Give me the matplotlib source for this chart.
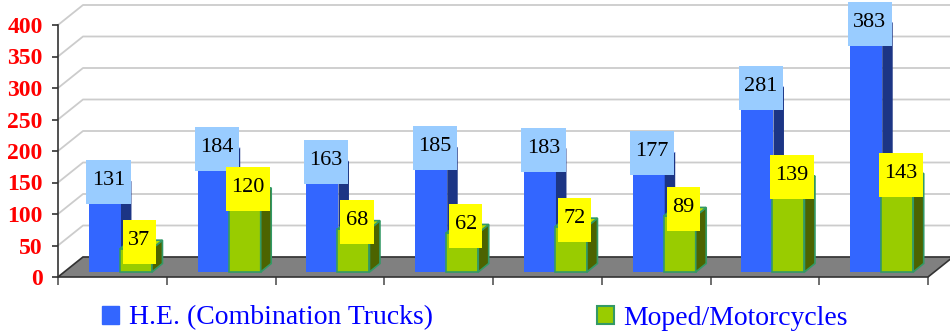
import matplotlib as mpl
import matplotlib.pyplot as plt
from matplotlib.patches import Polygon, Rectangle, Patch


years = ["1997", "1998", "1999", "2000", "2001", "2002", "2003", "2004"]
trucks = [131, 184, 163, 185, 183, 177, 281, 383]
mopeds = [37, 120, 68, 62, 72, 89, 139, 143]

SERIF = ["Liberation Serif", "DejaVu Serif"]
mpl.rcParams["font.family"] = SERIF

# pixel scale of the front plane (108.75 px per category, 0.63 px per unit)
PX_X = 108.75
PX_Y = 0.63

# depth of the floor / walls, and of each bar, in data units
WALL_DX, WALL_DY = 25 / PX_X, 20 / PX_Y
BAR_DX, BAR_DY = 10.5 / PX_X, 8.5 / PX_Y
BAR_BASE = 5 / PX_Y
BAR_W = 0.294

SERIES = [
    # (values, x offset in category, front, side, top, edge, label box)
    (trucks, 0.285, "#3366FF", "#1C3585", "#5F88FF", "none", "#99CCFF"),
    (mopeds, 0.570, "#99CC00", "#4C6300", "#B8E000", "#339966", "#FFFF00"),
]


def bar3d(ax, x0, v, front, side, top, edge):
    y0, y1 = BAR_BASE, BAR_BASE + v
    x1 = x0 + BAR_W
    kw = dict(edgecolor=edge, linewidth=1.2, clip_on=False, zorder=3)
    ax.add_patch(Polygon([(x0, y0), (x1, y0), (x1, y1), (x0, y1)],
                         facecolor=front, **kw))
    ax.add_patch(Polygon([(x1, y0), (x1 + BAR_DX, y0 + BAR_DY),
                          (x1 + BAR_DX, y1 + BAR_DY), (x1, y1)],
                         facecolor=side, **kw))
    ax.add_patch(Polygon([(x0, y1), (x1, y1), (x1 + BAR_DX, y1 + BAR_DY),
                          (x0 + BAR_DX, y1 + BAR_DY)],
                         facecolor=top, **kw))


def value_box(ax, xc, v, color):
    text = str(v)
    w = (len(text) * 10.7 + 12) / PX_X
    h = 44 / PX_Y
    yc = BAR_BASE + v + 7 / PX_Y
    ax.add_patch(Rectangle((xc - w / 2, yc - h / 2), w, h, facecolor=color,
                           edgecolor="none", clip_on=False, zorder=5))
    ax.text(xc, yc + 1.5 / PX_Y, text, ha="center", va="center",
            fontsize=16, color="black", zorder=6, clip_on=False)


fig = plt.figure(figsize=(9.5, 3.33), dpi=100)
ax = fig.add_axes([58 / 950, 56 / 333, 870 / 950, 252 / 333])
ax.set_xlim(0, len(years))
ax.set_ylim(0, 400)

n = len(years)
grid = "#CCCCCC"

# left and back walls
for v in range(0, 401, 50):
    ax.plot([0, WALL_DX, n + WALL_DX + 0.3], [v, v + WALL_DY, v + WALL_DY],
            color=grid, lw=1.3, clip_on=False, zorder=1)

# floor
ax.add_patch(Polygon([(0, 0), (n, 0), (n + WALL_DX, WALL_DY), (WALL_DX, WALL_DY)],
                     facecolor="#808080", edgecolor="#333333", lw=1.2,
                     clip_on=False, zorder=2))

for i in range(n):
    for vals, off, front, side, top, edge, _ in SERIES:
        bar3d(ax, i + off, vals[i], front, side, top, edge)

for i in range(n):
    for vals, off, *_, box in SERIES:
        value_box(ax, i + off + BAR_W / 2 + 3.5 / PX_X, vals[i], box)

for s in ["top", "right", "bottom"]:
    ax.spines[s].set_visible(False)
ax.spines["left"].set_color("#333333")
ax.spines["left"].set_linewidth(1.2)

ax.set_yticks(range(0, 401, 50))
ax.tick_params(axis="y", length=4, width=1.2, color="#333333", pad=7,
               labelsize=17, labelcolor="#FF0000")
for lab in ax.get_yticklabels():
    lab.set_fontweight("bold")

ax.set_xticks(range(n + 1))
ax.set_xticklabels([])
ax.set_xticks([i + 0.5 for i in range(n)], minor=True)
ax.set_xticklabels(years, minor=True)
ax.tick_params(axis="x", which="major", length=6, width=1.2, color="#555555")
ax.tick_params(axis="x", which="minor", length=0, pad=12.5,
               labelsize=19, labelcolor="#0000FF")

# white band below the axis, the legend sits on it
fig.patches.append(Rectangle((0, 0), 1, 39 / 333, transform=fig.transFigure,
                             facecolor="white", edgecolor="none", zorder=1))

handles = [Patch(facecolor="#3366FF", edgecolor="#3366FF",
                 label="H.E. (Combination Trucks)"),
           Patch(facecolor="#99CC00", edgecolor="#339966", lw=1.5,
                 label="Moped/Motorcycles")]
fig.legend(handles=handles, loc="center", bbox_to_anchor=(0.5, 15 / 333),
           ncol=2, frameon=False, fontsize=20, labelcolor="#0000FF",
           handlelength=0.61, handleheight=0.61, handletextpad=0.36,
           columnspacing=5.9)

fig.savefig("out.png", dpi=100)
